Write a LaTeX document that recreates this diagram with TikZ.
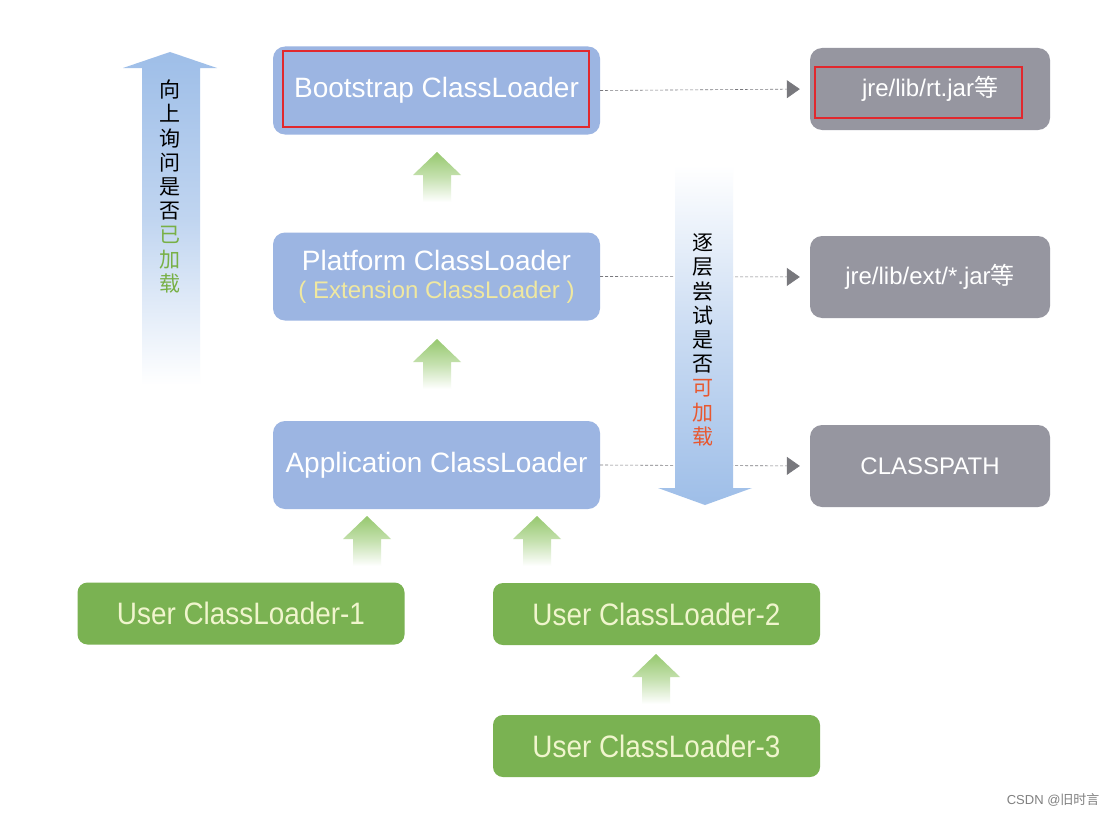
\documentclass[tikz,border=0pt]{standalone}
\usepackage{fontspec}
\setmainfont{Liberation Sans}
\newfontfamily\cjk{Noto Sans CJK SC}
\newfontfamily\narrowsf[FakeStretch=0.9]{Liberation Sans}
\usetikzlibrary{arrows.meta}
\definecolor{boxblue}{RGB}{156,181,226}
\definecolor{boxgray}{RGB}{150,150,160}
\definecolor{boxgreen}{RGB}{122,178,82}
\definecolor{greentext}{RGB}{240,245,205}
\definecolor{extyellow}{RGB}{240,232,160}
\definecolor{agreen}{RGB}{150,200,110}
\definecolor{bigblue}{RGB}{158,190,232}
\definecolor{cjkgreen}{RGB}{120,176,70}
\definecolor{cjkred}{RGB}{232,88,48}
\definecolor{markred}{RGB}{225,40,45}
\definecolor{linegray}{RGB}{120,120,125}
\begin{document}
\begin{tikzpicture}[x=1pt,y=-1pt,
  loader/.style={rounded corners=12pt, fill=boxblue, minimum width=327pt, minimum height=88pt,
    text=white, align=center, font=\fontsize{28}{30}\selectfont},
  userbox/.style={rounded corners=10pt, fill=boxgreen, minimum width=327pt, minimum height=62pt,
    text=greentext, font=\narrowsf\fontsize{31}{34}\selectfont},
  pathbox/.style={rounded corners=12pt, fill=boxgray, minimum width=240pt, minimum height=82pt,
    text=white, font=\fontsize{24}{28}\selectfont},
  marker/.style={draw=markred, line width=2.5pt, inner sep=0pt},
  dotlink/.style={draw=linegray, densely dashed, line width=0.6pt, shorten >=10pt,
    -{Triangle[length=13pt,width=18pt,fill=linegray]}},
  vtext/.style={align=center, font=\cjk\fontsize{21}{24.2}\selectfont, inner sep=0pt},
  gup/.pic={\shade[top color=agreen, bottom color=white, middle color=agreen!55]
    (0,0) -- (24,23) -- (14,23) -- (14,50) -- (-14,50) -- (-14,23) -- (-24,23) -- cycle;}
]
\useasboundingbox[fill=white] (0,0) rectangle (1118,816);

% big blue arrows
\shade[top color=bigblue, bottom color=white, middle color=bigblue!65]
  (170,52) -- (217,68) -- (200,68) -- (200,385) -- (142,385) -- (142,68) -- (123,68) -- cycle;

% loader boxes
\node[loader] (boot) at (436.5,90.5) {Bootstrap ClassLoader};
\node[loader] (plat) at (436.5,276.5) {Platform ClassLoader\\[-2pt]{\color{extyellow}\fontsize{24}{26}\selectfont ( Extension ClassLoader )}};
\node[loader] (app) at (436.5,465) {Application ClassLoader};

\node[userbox] (u1) at (241,613.5) {User ClassLoader-1};
\node[userbox] (u2) at (656.5,614) {User ClassLoader-2};
\node[userbox] (u3) at (656.5,746) {User ClassLoader-3};

\node[pathbox] (rt) at (930,89) {jre/lib/rt.jar{\cjk 等}};
\node[pathbox] (ext) at (930,277) {jre/lib/ext/*.jar{\cjk 等}};
\node[pathbox] (cp) at (930,466) {CLASSPATH};

% dotted links
\draw[dotlink] (boot.east) -- (rt.west);
\draw[dotlink] (plat.east) -- (ext.west);
\draw[dotlink] (app.east) -- (cp.west);

% right big arrow (over the links)
\shade[top color=white, bottom color=bigblue, middle color=bigblue!55]
  (675,165) -- (733,165) -- (733,488) -- (752,488) -- (705,505) -- (658,488) -- (675,488) -- cycle;

% green up arrows
\pic at (437,152) {gup};
\pic at (437,339) {gup};
\pic at (367,516) {gup};
\pic at (537,516) {gup};
\pic at (656,654) {gup};

% vertical texts
\node[vtext] (asktext) at (170,186.5) {向\\上\\询\\问\\是\\否\\{\color{cjkgreen}已}\\{\color{cjkgreen}加}\\{\color{cjkgreen}载}};
\node[vtext] (trytext) at (703,340) {逐\\层\\尝\\试\\是\\否\\{\color{cjkred}可}\\{\color{cjkred}加}\\{\color{cjkred}载}};

% red markers
\node[marker, minimum width=306pt, minimum height=76pt] (bootmark) at (436,89) {};
\node[marker, minimum width=207pt, minimum height=51pt] (rtmark) at (918.5,92.5) {};

% watermark
\node[anchor=east, text=black!50, font=\fontsize{13}{15}\selectfont] (wm) at (1103,800) {CSDN @{\cjk 旧时言}};
\end{tikzpicture}
\end{document}
